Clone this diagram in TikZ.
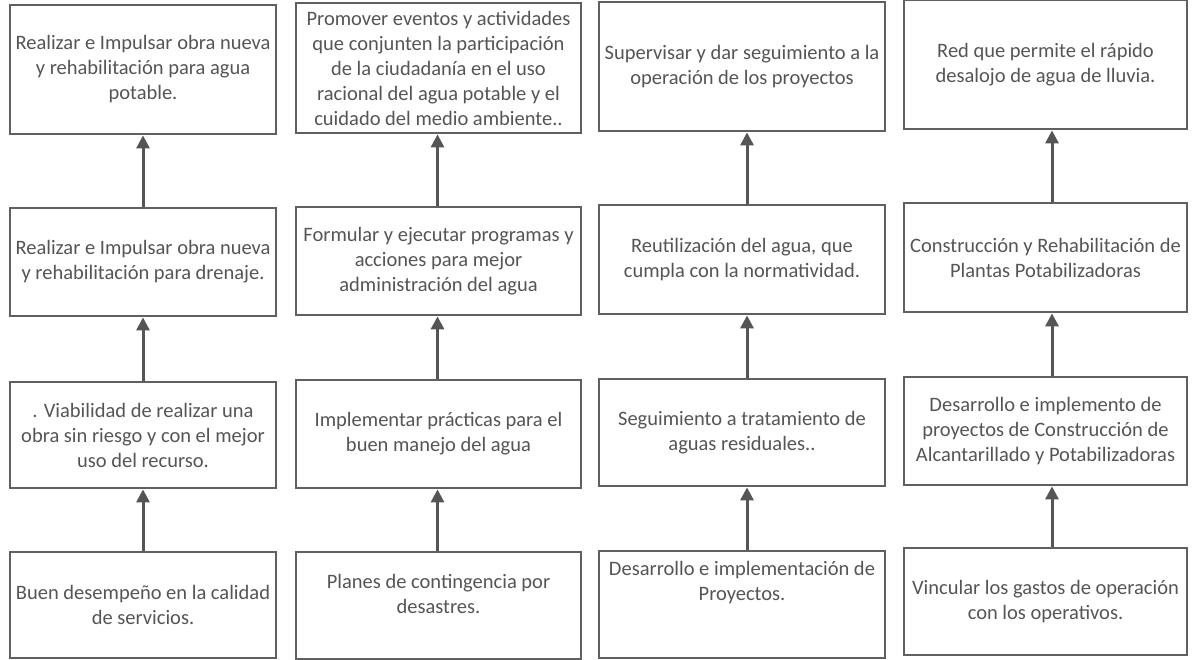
\documentclass[tikz,border=0pt]{standalone}
\usepackage{fontspec}
\setmainfont{Carlito}
\usetikzlibrary{arrows.meta}
\definecolor{txtgray}{HTML}{555555}
\definecolor{linegray}{HTML}{606060}
\definecolor{arrgray}{HTML}{555555}
\tikzset{
  box/.style={draw=linegray, line width=1.4pt, align=center, inner sep=0pt,
    text=txtgray, font=\fontsize{20.5}{25}\selectfont},
  uparrow/.style={draw=arrgray, line width=3pt,
    -{Triangle[width=13pt,length=13pt]}, shorten >=0.7pt}
}
\newcommand\bx[6]{\node[box, minimum width={(#4-#2)*1pt}, minimum height={(#5-#3)*1pt}] (#1) at ({(#2+#4)/2},{(#3+#5)/2}) {#6};}
\newcommand\lift[2]{\raisebox{#1}[\height][\depth]{\begin{tabular}{@{}c@{}}#2\end{tabular}}}
\begin{document}
\begin{tikzpicture}[x=1pt,y=-1pt]
\useasboundingbox[fill=white] (0,0) rectangle (1196,660);
% column 1
\bx{a1}{10}{5}{276}{134}{Realizar e Impulsar obra nueva\\y rehabilitación para agua\\potable.}
\bx{a2}{10}{208}{276}{316}{Realizar e Impulsar obra nueva\\y rehabilitación para drenaje.}
\bx{a3}{10}{382}{276}{488}{. Viabilidad de realizar una\\obra sin riesgo y con el mejor\\uso del recurso.}
\bx{a4}{10}{552}{276}{658}{Buen desempeño en la calidad\\de servicios.}
% column 2
\bx{b1}{296}{3}{581}{133}{Promover eventos y actividades\\que conjunten la participación\\de la ciudadanía en el uso\\racional del agua potable y el\\cuidado del medio ambiente..}
\bx{b2}{296}{207}{581}{315}{Formular y ejecutar programas y\\acciones para mejor\\administración del agua}
\bx{b3}{296}{380}{581}{488}{Implementar prácticas para el\\buen manejo del agua}
\bx{b4}{296}{552}{581}{659}{\lift{10pt}{Planes de contingencia por\\desastres.}}
% column 3
\bx{c1}{599}{2}{885}{131}{Supervisar y dar seguimiento a la\\operación de los proyectos}
\bx{c2}{599}{205}{885}{314}{Reutilización del agua, que\\cumpla con la normatividad.}
\bx{c3}{599}{379}{885}{486}{Seguimiento a tratamiento de\\aguas residuales..}
\bx{c4}{599}{551}{885}{658}{\lift{22pt}{Desarrollo e implementación de\\Proyectos.}}
% column 4
\bx{d1}{904}{0}{1187}{129}{Red que permite el rápido\\desalojo de agua de lluvia.}
\bx{d2}{904}{203}{1187}{312}{Construcción y Rehabilitación de\\Plantas Potabilizadoras}
\bx{d3}{904}{377}{1187}{485}{Desarrollo e implemento de\\proyectos de Construcción de\\Alcantarillado y Potabilizadoras}
\bx{d4}{904}{548}{1187}{655}{Vincular los gastos de operación\\con los operativos.}
% arrows
\foreach \c/\dx in {a/0,b/-1,c/5,d/6.5}{
  \draw[uparrow] ([xshift=\dx pt]\c4.north) -- ([xshift=\dx pt]\c3.south);
  \draw[uparrow] ([xshift=\dx pt]\c3.north) -- ([xshift=\dx pt]\c2.south);
  \draw[uparrow] ([xshift=\dx pt]\c2.north) -- ([xshift=\dx pt]\c1.south);
}
\end{tikzpicture}
\end{document}
